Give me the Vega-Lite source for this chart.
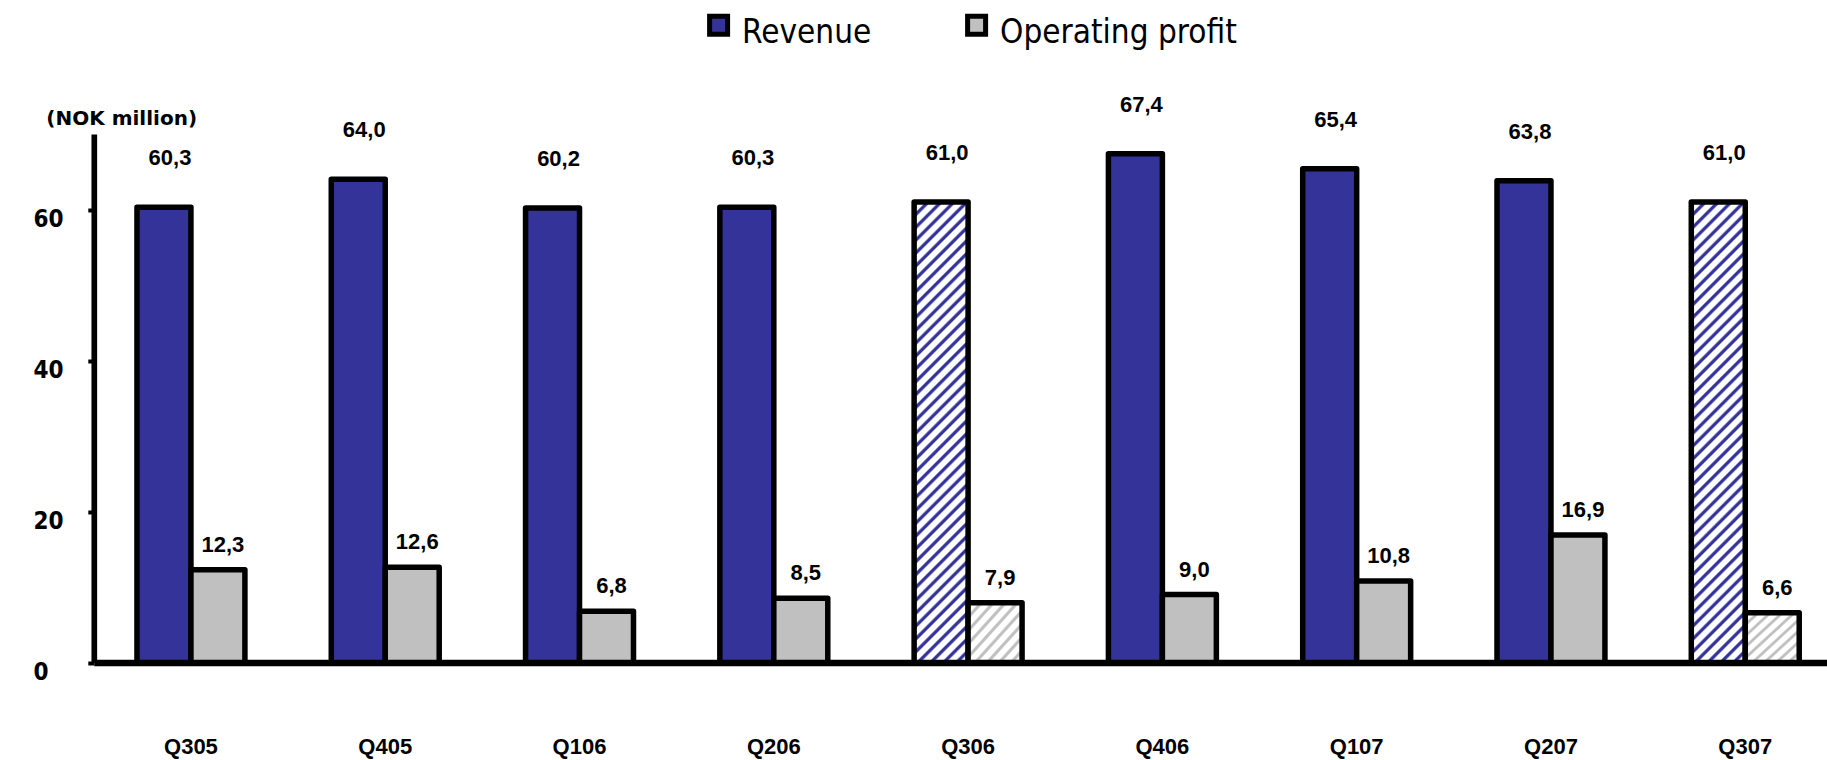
{
  "$schema": "https://vega.github.io/schema/vega-lite/v6.json",
  "autosize": {"type": "none"},
  "padding": {"left": 93.8, "top": 134, "right": -15.4, "bottom": 97.5},
  "width": 1748.6,
  "height": 528.5,
  "background": "white",
  "config": {
    "view": {"stroke": null},
    "locale": {"number": {"decimal": ",", "thousands": " ", "grouping": [3], "currency": ["", ""]}}
  },
  "data": {
    "values": [
      {"quarter": "Q305", "series": "Revenue", "value": 60.3, "basis": "reported"},
      {"quarter": "Q305", "series": "Operating profit", "value": 12.3, "basis": "reported"},
      {"quarter": "Q405", "series": "Revenue", "value": 64.0, "basis": "reported"},
      {"quarter": "Q405", "series": "Operating profit", "value": 12.6, "basis": "reported"},
      {"quarter": "Q106", "series": "Revenue", "value": 60.2, "basis": "reported"},
      {"quarter": "Q106", "series": "Operating profit", "value": 6.8, "basis": "reported"},
      {"quarter": "Q206", "series": "Revenue", "value": 60.3, "basis": "reported"},
      {"quarter": "Q206", "series": "Operating profit", "value": 8.5, "basis": "reported"},
      {"quarter": "Q306", "series": "Revenue", "value": 61.0, "basis": "pro forma"},
      {"quarter": "Q306", "series": "Operating profit", "value": 7.9, "basis": "pro forma"},
      {"quarter": "Q406", "series": "Revenue", "value": 67.4, "basis": "reported"},
      {"quarter": "Q406", "series": "Operating profit", "value": 9.0, "basis": "reported"},
      {"quarter": "Q107", "series": "Revenue", "value": 65.4, "basis": "reported"},
      {"quarter": "Q107", "series": "Operating profit", "value": 10.8, "basis": "reported"},
      {"quarter": "Q207", "series": "Revenue", "value": 63.8, "basis": "reported"},
      {"quarter": "Q207", "series": "Operating profit", "value": 16.9, "basis": "reported"},
      {"quarter": "Q307", "series": "Revenue", "value": 61.0, "basis": "pro forma"},
      {"quarter": "Q307", "series": "Operating profit", "value": 6.6, "basis": "pro forma"}
    ]
  },
  "encoding": {
    "x": {
      "field": "quarter",
      "type": "nominal",
      "sort": ["Q305", "Q405", "Q106", "Q206", "Q306", "Q406", "Q107", "Q207", "Q307"],
      "scale": {"paddingInner": 0, "paddingOuter": 0},
      "axis": {
        "title": null,
        "labelAngle": 0,
        "ticks": false,
        "domainColor": "black",
        "domainWidth": 6.5,
        "labelFont": "Liberation Sans",
        "labelFontWeight": "bold",
        "labelFontSize": 22,
        "labelColor": "black",
        "labelBaseline": "alphabetic",
        "labelPadding": 90.5
      }
    },
    "xOffset": {
      "field": "series",
      "type": "nominal",
      "scale": {"domain": ["Revenue", "Operating profit"], "paddingInner": 0, "paddingOuter": 0.8}
    },
    "y": {
      "field": "value",
      "type": "quantitative",
      "scale": {"domain": [0, 70], "nice": false, "zero": true},
      "axis": {
        "title": "(NOK million)",
        "titleAngle": 0,
        "titleAlign": "left",
        "titleBaseline": "alphabetic",
        "titleX": -48,
        "titleY": -10,
        "titleFont": "DejaVu Sans",
        "titleFontWeight": "bold",
        "titleFontSize": 20,
        "titleColor": "black",
        "values": [0, 20, 40, 60],
        "grid": false,
        "domainColor": "black",
        "domainWidth": 5.7,
        "tickColor": "black",
        "tickSize": 6,
        "tickWidth": 4,
        "labelAlign": "left",
        "labelBaseline": "alphabetic",
        "labelOffset": 17,
        "labelPadding": 54.8,
        "labelFont": "DejaVu Sans Condensed",
        "labelFontWeight": "bold",
        "labelFontSize": 24,
        "labelColor": "black"
      }
    }
  },
  "layer": [
    {
      "transform": [{"filter": "datum.basis === 'reported'"}],
      "mark": {"type": "bar", "stroke": "black", "strokeWidth": 5.5, "strokeJoin": "round"},
      "encoding": {
        "color": {
          "field": "series",
          "type": "nominal",
          "scale": {"domain": ["Revenue", "Operating profit"], "range": ["#333399", "#C0C0C0"]},
          "legend": {
            "orient": "none",
            "legendX": 608.3,
            "legendY": -118,
            "direction": "horizontal",
            "title": null,
            "padding": 0,
            "symbolType": "M-1,-1.82H1V0.18H-1Z",
            "symbolSize": 324,
            "symbolStrokeColor": "black",
            "symbolStrokeWidth": 5,
            "symbolOpacity": 1,
            "labelFont": "DejaVu Sans Condensed",
            "labelFontSize": 33,
            "labelColor": "black",
            "labelOffset": 7,
            "labelLimit": 0,
            "columnPadding": 85
          }
        }
      }
    },
    {
      "transform": [{"filter": "datum.basis === 'pro forma' && datum.series === 'Revenue'"}],
      "mark": {
        "type": "bar",
        "stroke": "black",
        "strokeWidth": 5.5,
        "strokeJoin": "round",
        "fill": {
          "gradient": "linear",
          "x1": 0, "y1": 0, "x2": 0.129, "y2": 1.102,
          "stops": [
            {"offset": 0, "color": "#333399"}, {"offset": 0.005, "color": "#333399"}, {"offset": 0.009, "color": "#ffffff"}, {"offset": 0.021, "color": "#ffffff"},
            {"offset": 0.025, "color": "#333399"}, {"offset": 0.03, "color": "#333399"}, {"offset": 0.034, "color": "#ffffff"}, {"offset": 0.046, "color": "#ffffff"},
            {"offset": 0.05, "color": "#333399"}, {"offset": 0.055, "color": "#333399"}, {"offset": 0.059, "color": "#ffffff"}, {"offset": 0.071, "color": "#ffffff"},
            {"offset": 0.075, "color": "#333399"}, {"offset": 0.08, "color": "#333399"}, {"offset": 0.084, "color": "#ffffff"}, {"offset": 0.096, "color": "#ffffff"},
            {"offset": 0.1, "color": "#333399"}, {"offset": 0.105, "color": "#333399"}, {"offset": 0.109, "color": "#ffffff"}, {"offset": 0.121, "color": "#ffffff"},
            {"offset": 0.125, "color": "#333399"}, {"offset": 0.13, "color": "#333399"}, {"offset": 0.134, "color": "#ffffff"}, {"offset": 0.146, "color": "#ffffff"},
            {"offset": 0.15, "color": "#333399"}, {"offset": 0.155, "color": "#333399"}, {"offset": 0.159, "color": "#ffffff"}, {"offset": 0.171, "color": "#ffffff"},
            {"offset": 0.175, "color": "#333399"}, {"offset": 0.18, "color": "#333399"}, {"offset": 0.184, "color": "#ffffff"}, {"offset": 0.196, "color": "#ffffff"},
            {"offset": 0.2, "color": "#333399"}, {"offset": 0.205, "color": "#333399"}, {"offset": 0.209, "color": "#ffffff"}, {"offset": 0.221, "color": "#ffffff"},
            {"offset": 0.225, "color": "#333399"}, {"offset": 0.23, "color": "#333399"}, {"offset": 0.234, "color": "#ffffff"}, {"offset": 0.246, "color": "#ffffff"},
            {"offset": 0.25, "color": "#333399"}, {"offset": 0.255, "color": "#333399"}, {"offset": 0.259, "color": "#ffffff"}, {"offset": 0.271, "color": "#ffffff"},
            {"offset": 0.275, "color": "#333399"}, {"offset": 0.28, "color": "#333399"}, {"offset": 0.284, "color": "#ffffff"}, {"offset": 0.296, "color": "#ffffff"},
            {"offset": 0.3, "color": "#333399"}, {"offset": 0.305, "color": "#333399"}, {"offset": 0.309, "color": "#ffffff"}, {"offset": 0.321, "color": "#ffffff"},
            {"offset": 0.325, "color": "#333399"}, {"offset": 0.33, "color": "#333399"}, {"offset": 0.334, "color": "#ffffff"}, {"offset": 0.346, "color": "#ffffff"},
            {"offset": 0.35, "color": "#333399"}, {"offset": 0.355, "color": "#333399"}, {"offset": 0.359, "color": "#ffffff"}, {"offset": 0.371, "color": "#ffffff"},
            {"offset": 0.375, "color": "#333399"}, {"offset": 0.38, "color": "#333399"}, {"offset": 0.384, "color": "#ffffff"}, {"offset": 0.396, "color": "#ffffff"},
            {"offset": 0.4, "color": "#333399"}, {"offset": 0.405, "color": "#333399"}, {"offset": 0.409, "color": "#ffffff"}, {"offset": 0.421, "color": "#ffffff"},
            {"offset": 0.425, "color": "#333399"}, {"offset": 0.43, "color": "#333399"}, {"offset": 0.434, "color": "#ffffff"}, {"offset": 0.446, "color": "#ffffff"},
            {"offset": 0.45, "color": "#333399"}, {"offset": 0.455, "color": "#333399"}, {"offset": 0.459, "color": "#ffffff"}, {"offset": 0.471, "color": "#ffffff"},
            {"offset": 0.475, "color": "#333399"}, {"offset": 0.48, "color": "#333399"}, {"offset": 0.484, "color": "#ffffff"}, {"offset": 0.496, "color": "#ffffff"},
            {"offset": 0.5, "color": "#333399"}, {"offset": 0.505, "color": "#333399"}, {"offset": 0.509, "color": "#ffffff"}, {"offset": 0.521, "color": "#ffffff"},
            {"offset": 0.525, "color": "#333399"}, {"offset": 0.53, "color": "#333399"}, {"offset": 0.534, "color": "#ffffff"}, {"offset": 0.546, "color": "#ffffff"},
            {"offset": 0.55, "color": "#333399"}, {"offset": 0.555, "color": "#333399"}, {"offset": 0.559, "color": "#ffffff"}, {"offset": 0.571, "color": "#ffffff"},
            {"offset": 0.575, "color": "#333399"}, {"offset": 0.58, "color": "#333399"}, {"offset": 0.584, "color": "#ffffff"}, {"offset": 0.596, "color": "#ffffff"},
            {"offset": 0.6, "color": "#333399"}, {"offset": 0.605, "color": "#333399"}, {"offset": 0.609, "color": "#ffffff"}, {"offset": 0.621, "color": "#ffffff"},
            {"offset": 0.625, "color": "#333399"}, {"offset": 0.63, "color": "#333399"}, {"offset": 0.634, "color": "#ffffff"}, {"offset": 0.646, "color": "#ffffff"},
            {"offset": 0.65, "color": "#333399"}, {"offset": 0.655, "color": "#333399"}, {"offset": 0.659, "color": "#ffffff"}, {"offset": 0.671, "color": "#ffffff"},
            {"offset": 0.675, "color": "#333399"}, {"offset": 0.68, "color": "#333399"}, {"offset": 0.684, "color": "#ffffff"}, {"offset": 0.696, "color": "#ffffff"},
            {"offset": 0.7, "color": "#333399"}, {"offset": 0.705, "color": "#333399"}, {"offset": 0.709, "color": "#ffffff"}, {"offset": 0.721, "color": "#ffffff"},
            {"offset": 0.725, "color": "#333399"}, {"offset": 0.73, "color": "#333399"}, {"offset": 0.734, "color": "#ffffff"}, {"offset": 0.746, "color": "#ffffff"},
            {"offset": 0.75, "color": "#333399"}, {"offset": 0.755, "color": "#333399"}, {"offset": 0.759, "color": "#ffffff"}, {"offset": 0.771, "color": "#ffffff"},
            {"offset": 0.775, "color": "#333399"}, {"offset": 0.78, "color": "#333399"}, {"offset": 0.784, "color": "#ffffff"}, {"offset": 0.796, "color": "#ffffff"},
            {"offset": 0.8, "color": "#333399"}, {"offset": 0.805, "color": "#333399"}, {"offset": 0.809, "color": "#ffffff"}, {"offset": 0.821, "color": "#ffffff"},
            {"offset": 0.825, "color": "#333399"}, {"offset": 0.83, "color": "#333399"}, {"offset": 0.834, "color": "#ffffff"}, {"offset": 0.846, "color": "#ffffff"},
            {"offset": 0.85, "color": "#333399"}, {"offset": 0.855, "color": "#333399"}, {"offset": 0.859, "color": "#ffffff"}, {"offset": 0.871, "color": "#ffffff"},
            {"offset": 0.875, "color": "#333399"}, {"offset": 0.88, "color": "#333399"}, {"offset": 0.884, "color": "#ffffff"}, {"offset": 0.896, "color": "#ffffff"},
            {"offset": 0.9, "color": "#333399"}, {"offset": 0.905, "color": "#333399"}, {"offset": 0.909, "color": "#ffffff"}, {"offset": 0.921, "color": "#ffffff"},
            {"offset": 0.925, "color": "#333399"}, {"offset": 0.93, "color": "#333399"}, {"offset": 0.934, "color": "#ffffff"}, {"offset": 0.946, "color": "#ffffff"},
            {"offset": 0.95, "color": "#333399"}, {"offset": 0.955, "color": "#333399"}, {"offset": 0.959, "color": "#ffffff"}, {"offset": 0.971, "color": "#ffffff"},
            {"offset": 0.975, "color": "#333399"}, {"offset": 0.98, "color": "#333399"}, {"offset": 0.984, "color": "#ffffff"}, {"offset": 0.996, "color": "#ffffff"},
            {"offset": 1, "color": "#333399"}
          ]
        }
      }
    },
    {
      "transform": [{"filter": "datum.basis === 'pro forma' && datum.series === 'Operating profit'"}],
      "mark": {
        "type": "bar",
        "stroke": "black",
        "strokeWidth": 5.5,
        "strokeJoin": "round",
        "fill": {
          "gradient": "linear",
          "x1": 0, "y1": 0, "x2": 1, "y2": 1,
          "stops": [
            {"offset": 0, "color": "#C0C0C0"}, {"offset": 0.022, "color": "#C0C0C0"}, {"offset": 0.039, "color": "#ffffff"}, {"offset": 0.094, "color": "#ffffff"},
            {"offset": 0.111, "color": "#C0C0C0"}, {"offset": 0.133, "color": "#C0C0C0"}, {"offset": 0.15, "color": "#ffffff"}, {"offset": 0.206, "color": "#ffffff"},
            {"offset": 0.222, "color": "#C0C0C0"}, {"offset": 0.244, "color": "#C0C0C0"}, {"offset": 0.261, "color": "#ffffff"}, {"offset": 0.317, "color": "#ffffff"},
            {"offset": 0.333, "color": "#C0C0C0"}, {"offset": 0.356, "color": "#C0C0C0"}, {"offset": 0.372, "color": "#ffffff"}, {"offset": 0.428, "color": "#ffffff"},
            {"offset": 0.444, "color": "#C0C0C0"}, {"offset": 0.467, "color": "#C0C0C0"}, {"offset": 0.483, "color": "#ffffff"}, {"offset": 0.539, "color": "#ffffff"},
            {"offset": 0.556, "color": "#C0C0C0"}, {"offset": 0.578, "color": "#C0C0C0"}, {"offset": 0.594, "color": "#ffffff"}, {"offset": 0.65, "color": "#ffffff"},
            {"offset": 0.667, "color": "#C0C0C0"}, {"offset": 0.689, "color": "#C0C0C0"}, {"offset": 0.706, "color": "#ffffff"}, {"offset": 0.761, "color": "#ffffff"},
            {"offset": 0.778, "color": "#C0C0C0"}, {"offset": 0.8, "color": "#C0C0C0"}, {"offset": 0.817, "color": "#ffffff"}, {"offset": 0.872, "color": "#ffffff"},
            {"offset": 0.889, "color": "#C0C0C0"}, {"offset": 0.911, "color": "#C0C0C0"}, {"offset": 0.928, "color": "#ffffff"}, {"offset": 0.983, "color": "#ffffff"},
            {"offset": 1, "color": "#C0C0C0"}
          ]
        }
      }
    },
    {
      "transform": [{"filter": "datum.series === 'Revenue'"}],
      "mark": {"type": "text", "font": "Liberation Sans", "fontWeight": "bold", "fontSize": 22, "color": "black", "baseline": "alphabetic", "dy": -42, "dx": 6},
      "encoding": {"text": {"field": "value", "type": "quantitative", "format": ".1f"}}
    },
    {
      "transform": [{"filter": "datum.series === 'Operating profit'"}],
      "mark": {"type": "text", "font": "Liberation Sans", "fontWeight": "bold", "fontSize": 22, "color": "black", "baseline": "alphabetic", "dy": -18, "dx": 5},
      "encoding": {"text": {"field": "value", "type": "quantitative", "format": ".1f"}}
    }
  ]
}
